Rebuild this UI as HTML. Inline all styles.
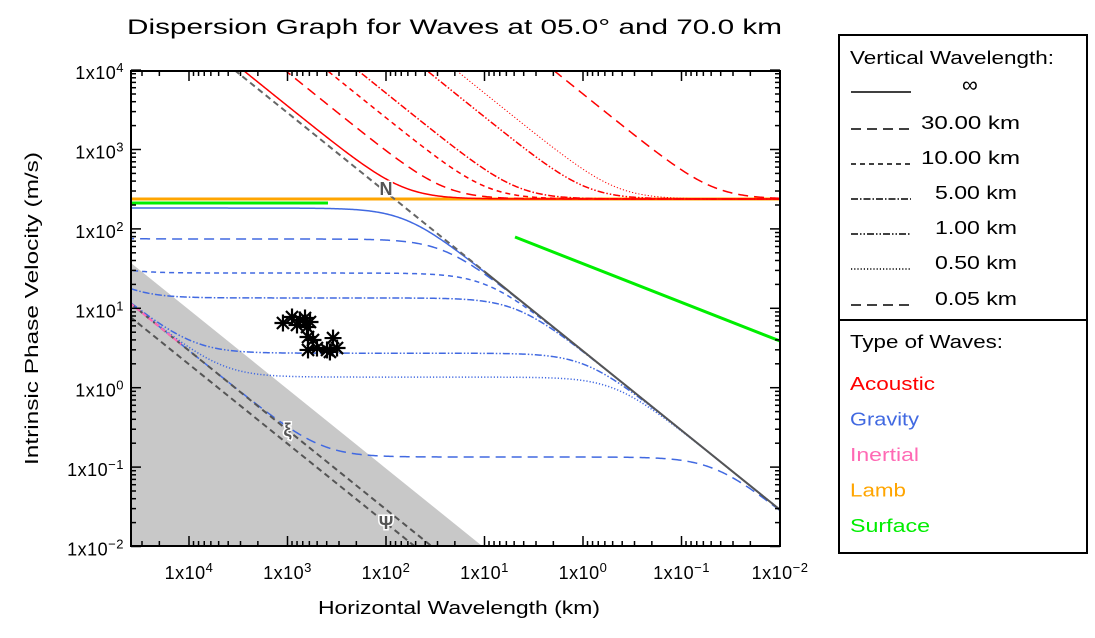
<!DOCTYPE html>
<html><head><meta charset="utf-8"><style>
body{margin:0;background:#fff}
svg{display:block;font-family:"Liberation Sans",sans-serif}
</style></head><body>
<svg id="chart" width="1095" height="638" viewBox="0 0 1095 638">
<defs><clipPath id="plotclip"><rect x="131" y="71" width="649" height="475"/></clipPath></defs>
<text x="127" y="34" font-size="21" textLength="655" lengthAdjust="spacingAndGlyphs">Dispersion Graph for Waves at 05.0° and 70.0 km</text>
<g id="plot" clip-path="url(#plotclip)"></g>
<g id="axes"></g>
<text x="318" y="614" font-size="18" textLength="282" lengthAdjust="spacingAndGlyphs">Horizontal Wavelength (km)</text>
<text transform="translate(38,465) rotate(-90)" font-size="18" textLength="313" lengthAdjust="spacingAndGlyphs">Intrinsic Phase Velocity (m/s)</text>
<g id="legend"></g>
</svg>
<script>
// ---- data ----
const vertLabels = ["∞","30.00 km","10.00 km","5.00 km","1.00 km","0.50 km","0.05 km"];
const gravityPlateau = [183, 74.6, 27.8, 13.5, 2.72, 1.36, 0.134];       // m/s
const acousticTopLambda = [2830, 1065, 400, 195, 39, 19.5, 2.0];          // km where acoustic curve reaches 1e4 m/s
const soundSpeed = 238;
const bvSlope = 2.9;
const inertialSlope = 0.000293;
const psiSlope = 0.000197;
const shadeSlope = 0.00096;
const surfaceLambda = [4.9, 0.01];
const surfaceVel = [79, 3.87];
const lambFlat = [238];
const greenFlat = [212];
const greenFlatEnd = [388];
const obsLambda = [1112,900,747,664,591,634,801,619,551,619,502,397,345,314,371];
const obsVel = [6.53,7.77,7.12,7.55,6.72,5.82,6.16,4.35,3.99,2.99,3.16,2.99,4.22,3.16,2.82];
const xTickLabels = ["4","3","2","1","0","−1","−2"];
const yTickLabels = ["4","3","2","1","0","−1","−2"];

const NS="http://www.w3.org/2000/svg";
const xs = l => 780 - 98.5*(Math.log10(l)+2);
const ys = v => 546.5 - 79.4*(Math.log10(v)+2);
const LMAX=Math.pow(10,4.6);
function mk(tag, attrs, parent){const e=document.createElementNS(NS,tag);for(const k in attrs)e.setAttribute(k,attrs[k]);parent.appendChild(e);return e;}
const plot=document.getElementById('plot'), axes=document.getElementById('axes'), leg=document.getElementById('legend');
const dashes=["", "10 6", "5 4", "7 2 1.5 2", "7 2 1.5 2 1.5 2", "1.2 2", "10 6"];
const grid=[];for(let i=0;i<=500;i++)grid.push(Math.pow(10,-2+6.6*i/500));
function pathFrom(fn){let d="";grid.forEach((l,i)=>{const v=fn(l);d+=(i?"L":"M")+xs(l).toFixed(2)+" "+ys(v).toFixed(2);});return d;}

const sh=mk('polygon',{points:`${xs(LMAX)},${ys(shadeSlope*LMAX)} ${xs(0.01/shadeSlope)},${ys(0.01)} ${xs(LMAX)},${ys(0.01)}`,fill:'#c8c8c8'},plot);



const lamb=mk('line',{x1:131,x2:780,y1:ys(lambFlat[0]),y2:ys(lambFlat[0]),stroke:'#ffa500','stroke-width':3},plot);


const gf=mk('line',{x1:131,x2:xs(greenFlatEnd[0]),y1:ys(greenFlat[0]),y2:ys(greenFlat[0]),stroke:'#00ee00','stroke-width':3},plot);



acousticTopLambda.forEach((lt,i)=>{
  const A=Math.sqrt(1e8-soundSpeed*soundSpeed)/lt;
  const p=mk('path',{d:pathFrom(l=>Math.sqrt(soundSpeed*soundSpeed+(A*l)*(A*l))),fill:'none',stroke:'#ff0000','stroke-width':i==5?1:1.5,'stroke-dasharray':dashes[i]},plot);
  
  
});

gravityPlateau.forEach((c0,i)=>{
  const p=mk('path',{d:pathFrom(l=>{const cN=bvSlope*l, cf=inertialSlope*l;
      return Math.sqrt(1/(1/(cN*cN)+1/(c0*c0)) + cf*cf*cN*cN/(cN*cN+c0*c0));}),
    fill:'none',stroke:'#4169e1','stroke-width':1.5,'stroke-dasharray':dashes[i]},plot);
  
  
});

const nd=mk('line',{x1:xs(1e4/bvSlope),y1:ys(1e4),x2:xs(10),y2:ys(bvSlope*10),stroke:'#666','stroke-width':2,'stroke-dasharray':'6 4'},plot);


const ns=mk('line',{x1:xs(10),y1:ys(bvSlope*10),x2:xs(0.01),y2:ys(bvSlope*0.01),stroke:'#555','stroke-width':2},plot);


[[inertialSlope,'inertial-line'],[psiSlope,'psi-line']].forEach(([s,n])=>{
  const e=mk('line',{x1:xs(LMAX),y1:ys(s*LMAX),x2:xs(0.01/s),y2:ys(0.01),stroke:'#555','stroke-width':2,'stroke-dasharray':'6 4'},plot);
  
  
});
const pk=mk('line',{x1:xs(LMAX),y1:ys(inertialSlope*LMAX),x2:xs(12000),y2:ys(inertialSlope*12000),stroke:'#ff69b4','stroke-width':2,'stroke-dasharray':'5 3'},plot);



const sw=mk('line',{x1:xs(surfaceLambda[0]),y1:ys(surfaceVel[0]),x2:xs(surfaceLambda[1]),y2:ys(surfaceVel[1]),stroke:'#00ee00','stroke-width':3},plot);



obsLambda.forEach((l,i)=>{
  const g=mk('g',{},plot);
  
  
  const cx=xs(l), cy=ys(obsVel[i]), r=8.5;
  [0,45,90,135].forEach(a=>{const t=a*Math.PI/180;
    mk('line',{x1:cx-r*Math.cos(t),y1:cy-r*Math.sin(t),x2:cx+r*Math.cos(t),y2:cy+r*Math.sin(t),stroke:'#000','stroke-width':2.2},g);});
});

[['N',bvSlope*100,100,'n-label'],['ξ',inertialSlope*1000,1000,'xi-label'],['Ψ',psiSlope*100,100,'psi-label']].forEach(([t,v,l,n])=>{
  const e=mk('text',{x:xs(l),y:ys(v)+(n=='n-label'?3:6),'text-anchor':'middle','font-size':18,'font-weight':'bold',fill:'#555',stroke:'#fff','stroke-width':3,'paint-order':'stroke'},plot);
  e.textContent=t;
  
  
});

mk('rect',{x:131,y:71,width:649,height:475,fill:'none',stroke:'#000','stroke-width':2},axes);
for(let d=-2;d<=4;d++){
  for(let k=1;k<=9;k++){const l=k*Math.pow(10,d);if(l>LMAX)continue;const x=xs(l);if(x<131||x>780)continue;
    const len=k==1?10:5;
    mk('line',{x1:x,x2:x,y1:546,y2:546-len,stroke:'#000','stroke-width':1.5},axes);
    mk('line',{x1:x,x2:x,y1:71,y2:71+len,stroke:'#000','stroke-width':1.5},axes);}
}
xTickLabels.forEach((s,i)=>{const x=xs(Math.pow(10,4-i));
  const t=mk('text',{x:x,y:579,'text-anchor':'middle','font-size':18,'letter-spacing':0.5},axes);
  t.innerHTML='1x10<tspan dy="-7" font-size="13">'+s+'</tspan>';
  
  });
for(let d=-2;d<=4;d++){
  for(let k=1;k<=9;k++){const v=k*Math.pow(10,d);if(v>1e4)continue;const y=ys(v);
    const len=k==1?10:5;
    mk('line',{x1:131,x2:131+len,y1:y,y2:y,stroke:'#000','stroke-width':1.5},axes);
    mk('line',{x1:780,x2:780-len,y1:y,y2:y,stroke:'#000','stroke-width':1.5},axes);}
}
yTickLabels.forEach((s,i)=>{const y=ys(Math.pow(10,4-i));
  const t=mk('text',{x:124,y:y+9,'text-anchor':'end','font-size':18,'letter-spacing':0.5},axes);
  t.innerHTML='1x10<tspan dy="-7" font-size="13">'+s+'</tspan>';
  
  });

mk('rect',{x:839,y:35,width:248,height:518,fill:'none',stroke:'#000','stroke-width':2},leg);
mk('line',{x1:839,x2:1087,y1:320,y2:320,stroke:'#000','stroke-width':2},leg);
let h=mk('text',{x:850,y:64,'font-size':18,textLength:204,lengthAdjust:'spacingAndGlyphs'},leg);h.textContent='Vertical Wavelength:';
const rowY=[88,129,164,199,234,269,305];
const rowX=[962,921,921,935,935,935,935];
vertLabels.forEach((s,i)=>{
  const g=mk('g',{},leg);
  
  
  mk('line',{x1:851,x2:911,y1:(i==0?92:rowY[i]),y2:(i==0?92:rowY[i]),stroke:'#000','stroke-width':1.5,'stroke-dasharray':dashes[i]},g);
  const t=mk('text',{x:rowX[i],y:i==0?92:rowY[i],'font-size':i==0?22:18},g);
  if(i>0){t.setAttribute('textLength',i<3?99:82);t.setAttribute('lengthAdjust','spacingAndGlyphs');}
  t.textContent=s;
});
h=mk('text',{x:850,y:348,'font-size':18,textLength:153,lengthAdjust:'spacingAndGlyphs'},leg);h.textContent='Type of Waves:';
const wl=[85,69,69,56,80];
[['Acoustic','#ff0000'],['Gravity','#4169e1'],['Inertial','#ff69b4'],['Lamb','#ffa500'],['Surface','#00ee00']].forEach(([s,c],i)=>{
  const t=mk('text',{x:850,y:390+35.5*i,'font-size':18,fill:c,textLength:wl[i],lengthAdjust:'spacingAndGlyphs'},leg);
  t.textContent=s;
  
  
});
</script>
</body></html>
